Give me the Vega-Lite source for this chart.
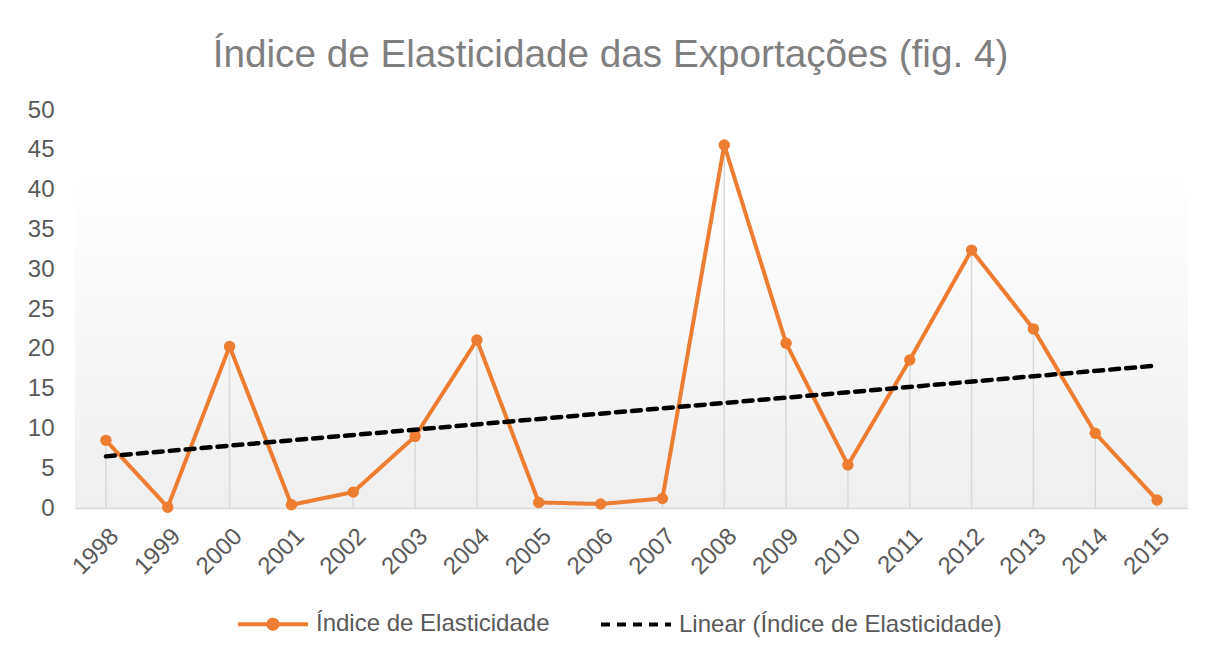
{
  "$schema": "https://vega.github.io/schema/vega-lite/v6.json",
  "width": 1113,
  "height": 398,
  "autosize": "none",
  "padding": {"left": 75, "top": 110, "right": 17, "bottom": 143},
  "background": "white",
  "title": {
    "text": "Índice de Elasticidade das Exportações (fig. 4)",
    "font": "Liberation Sans",
    "fontSize": 38.7,
    "fontWeight": "normal",
    "color": "#7f7f7f",
    "anchor": "middle",
    "baseline": "alphabetic",
    "offset": 41,
    "dy": 49,
    "dx": -21
  },
  "config": {
    "font": "Liberation Sans",
    "view": {
      "stroke": null,
      "fill": {
        "gradient": "linear",
        "x1": 0, "y1": 0, "x2": 0, "y2": 1,
        "stops": [
          {"offset": 0, "color": "#ffffff"},
          {"offset": 0.15, "color": "#ffffff"},
          {"offset": 1, "color": "#efefef"}
        ]
      }
    },
    "legend": {
      "orient": "none",
      "legendX": 161,
      "legendY": 477,
      "direction": "horizontal",
      "labelFontSize": 24,
      "labelColor": "#595959",
      "labelFont": "Liberation Sans",
      "labelLimit": 0,
      "symbolType": "stroke",
      "symbolSize": 4900,
      "symbolStrokeWidth": 4,
      "labelOffset": 6,
      "columnPadding": 43,
      "title": null
    }
  },
  "data": {
    "values": [
      {"year": 1998, "value": 8.5},
      {"year": 1999, "value": 0.1},
      {"year": 2000, "value": 20.3},
      {"year": 2001, "value": 0.4},
      {"year": 2002, "value": 2.0},
      {"year": 2003, "value": 9.0},
      {"year": 2004, "value": 21.1},
      {"year": 2005, "value": 0.7},
      {"year": 2006, "value": 0.5},
      {"year": 2007, "value": 1.2},
      {"year": 2008, "value": 45.6},
      {"year": 2009, "value": 20.7},
      {"year": 2010, "value": 5.4},
      {"year": 2011, "value": 18.6},
      {"year": 2012, "value": 32.4},
      {"year": 2013, "value": 22.5},
      {"year": 2014, "value": 9.4},
      {"year": 2015, "value": 1.0}
    ]
  },
  "encoding": {
    "x": {
      "field": "year",
      "type": "quantitative",
      "scale": {"domain": [1997.5, 2015.5], "nice": false, "zero": false},
      "axis": {
        "values": [1998, 1999, 2000, 2001, 2002, 2003, 2004, 2005, 2006, 2007, 2008, 2009, 2010, 2011, 2012, 2013, 2014, 2015],
        "format": "d",
        "labelAngle": -45,
        "labelFontSize": 24,
        "labelColor": "#595959",
        "labelPadding": 16,
        "labelDx": -22,
        "grid": false,
        "ticks": false,
        "domainColor": "#d9d9d9",
        "domainWidth": 1.5,
        "title": null,
        "labelOverlap": false
      }
    },
    "y": {
      "field": "value",
      "type": "quantitative",
      "scale": {"domain": [0, 50], "nice": false},
      "axis": {
        "values": [0, 5, 10, 15, 20, 25, 30, 35, 40, 45, 50],
        "grid": false,
        "domain": false,
        "ticks": false,
        "labelFontSize": 24,
        "labelColor": "#595959",
        "labelPadding": 21,
        "labelOverlap": false,
        "labelBound": false,
        "title": null
      }
    }
  },
  "layer": [
    {
      "mark": {"type": "rule", "color": "#d9d9d9", "strokeWidth": 1.5},
      "encoding": {
        "y2": {"datum": 0}
      }
    },
    {
      "mark": {"type": "line", "strokeWidth": 4, "strokeJoin": "round", "strokeCap": "round"},
      "encoding": {
        "color": {
          "datum": "Índice de Elasticidade",
          "scale": {"domain": ["Índice de Elasticidade", "Linear (Índice de Elasticidade)"], "range": ["#ED7D31", "#000000"]},
          "legend": {
            "encode": {
              "symbols": {
                "update": {
                  "shape": [
                    {"test": "datum.index === 0", "value": "M-1,0L1,0M0.13,0A0.13,0.13,0,1,1,-0.13,0A0.13,0.13,0,1,1,0.13,0Z"},
                    {"value": "stroke"}
                  ],
                  "fill": [
                    {"test": "datum.index === 0", "value": "#ED7D31"},
                    {"value": "transparent"}
                  ]
                }
              }
            }
          }
        },
        "strokeDash": {
          "datum": "Índice de Elasticidade",
          "scale": {"domain": ["Índice de Elasticidade", "Linear (Índice de Elasticidade)"], "range": [[1, 0], [9, 7]]}
        }
      }
    },
    {
      "mark": {"type": "point", "filled": true, "size": 130, "opacity": 1},
      "encoding": {
        "color": {"datum": "Índice de Elasticidade"}
      }
    },
    {
      "transform": [{"regression": "value", "on": "year", "extent": [1998, 2015]}],
      "mark": {"type": "line", "strokeWidth": 4.5, "strokeCap": "round"},
      "encoding": {
        "color": {"datum": "Linear (Índice de Elasticidade)"},
        "strokeDash": {"datum": "Linear (Índice de Elasticidade)"}
      }
    }
  ]
}
